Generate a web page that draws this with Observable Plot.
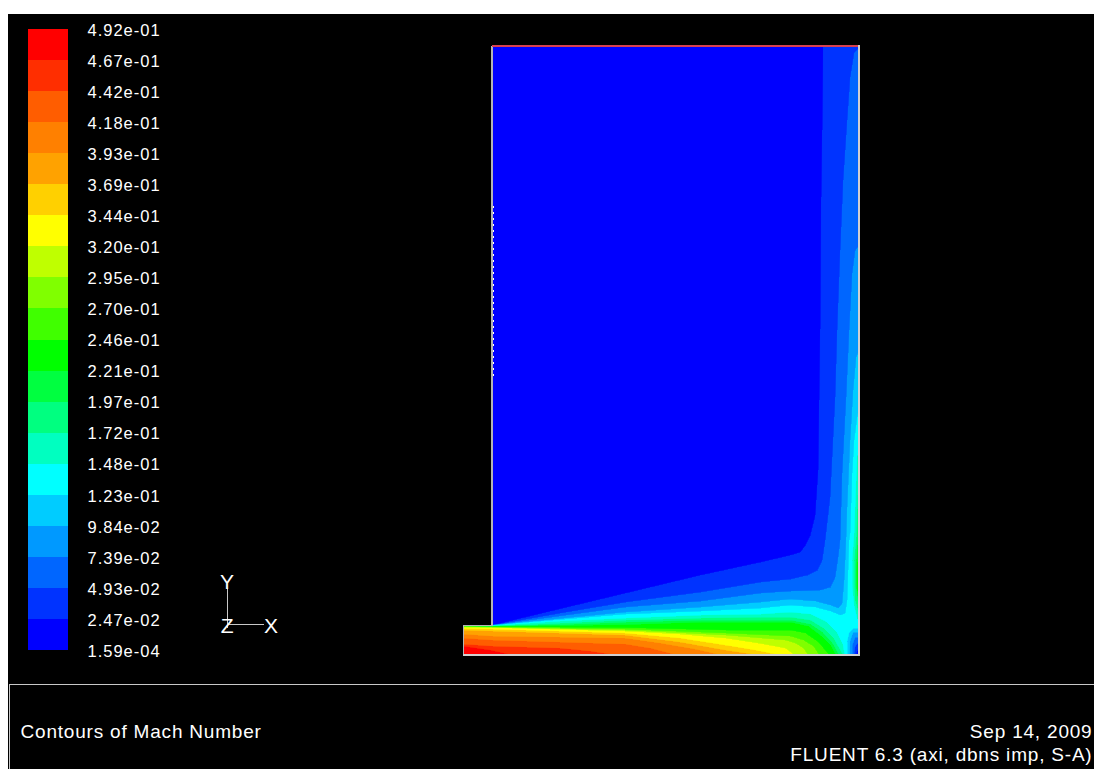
<!DOCTYPE html>
<html>
<head>
<meta charset="utf-8">
<script src="https://cdn.jsdelivr.net/npm/d3@7"></script>
<script src="https://cdn.jsdelivr.net/npm/@observablehq/plot@0.6"></script>
<style>
html,body{margin:0;padding:0;background:#fff;overflow:hidden}
#panel{position:absolute;left:8px;top:14px;width:1086px;height:755px;background:#000}
#chart svg{position:absolute;left:0;top:0}
</style>
</head>
<body>
<div id="panel"></div>
<div id="chart"></div>
<script>
// Legend
const levelLabels = ["1.59e-04","2.47e-02","4.93e-02","7.39e-02","9.84e-02","1.23e-01","1.48e-01","1.72e-01","1.97e-01","2.21e-01","2.46e-01","2.70e-01","2.95e-01","3.20e-01","3.44e-01","3.69e-01","3.93e-01","4.18e-01","4.42e-01","4.67e-01","4.92e-01"];
const bandColors = ["#0000ff","#0033ff","#0066ff","#0099ff","#00ccff","#00ffff","#00ffc0","#00ff80","#00ff40","#00ff00","#40ff00","#80ff00","#bfff00","#ffff00","#ffd000","#ffa200","#ff8000","#ff5d00","#ff2e00","#ff0000"];

// Contour boundaries [distance from nozzle exit, height above axis]
const domainOutline = [[-29,29],[0,29],[0,608],[366,608],[366,0],[-29,0]];
const L1 = [[0,29],[58,43],[108,55],[133,61],[158,67],[208,79],[268,92],[298,99],[308,102],[313,109],[318,119],[323,139],[326,184],[327,254],[328,324],[329,457],[330,524],[331,608],[366,608]];
const L2 = [[0,29],[68,41],[133,52],[208,62],[268,72],[298,75],[315,79],[325,84],[330,94],[333,114],[338,157],[343,257],[345,324],[348,404],[351,474],[355,534],[358,577],[362,602],[366,606]];
const L3 = [[0,29],[133,47],[208,53],[268,61],[298,63],[328,64],[338,67],[343,77],[346,97],[348,114],[350,181],[354,257],[357,324],[360,381],[363,404],[366,408]];
const L4 = [[0,29],[133,42],[208,47],[268,52],[298,55],[323,53],[338,49],[346,46],[350,51],[352,74],[353,94],[354,117],[355,147],[358,214],[361,264],[364,297],[366,302]];
const L5 = [[0,29],[133,40],[208,43],[268,46],[298,49],[323,47],[338,43],[348,39],[353,41],[355,54],[356,84],[357,114],[358,121],[360,181],[362,214],[365,237],[366,242]];
const L6 = [[-29,29],[0,28.5],[68,33],[133,36],[208,39],[268,40],[298,42],[318,40],[333,33],[344,22],[350,10],[352,0]];
const L7 = [[-29,28.5],[0,28],[68,31],[133,34],[208,36],[268,37],[298,37],[318,34],[331,26],[341,16],[350,0]];
const L8 = [[-29,28],[0,28],[68,29.5],[133,32],[208,34],[268,34],[298,34],[318,30],[330,22],[340,11],[346,0]];
const L9 = [[-29,28],[0,28],[68,28.5],[133,29.5],[208,32],[268,32],[298,32],[316,28],[328,19],[338,9],[343,0]];
const L10 = [[-29,28],[0,27.5],[68,27],[133,26.5],[233,24],[298,24],[313,21],[326,12],[336,0]];
const L11 = [[-29,27.7],[0,27],[133,25],[233,21],[298,18],[311,14],[321,8],[326,0]];
const L12 = [[-29,27.4],[0,26.7],[133,24],[233,19],[293,14],[303,11],[311,6],[315,0]];
const L13 = [[-29,27],[0,26.5],[133,23],[188,20],[233,16],[266,11],[293,6],[301,0]];
const L14 = [[-29,25.5],[0,25],[133,21],[188,16],[233,9],[263,4],[283,0]];
const L15 = [[-29,24],[0,23],[133,19],[188,12],[233,4],[260,0]];
const L16 = [[-29,20],[0,18],[133,16],[168,11],[203,5],[225,0]];
const L17 = [[-29,16],[0,14],[68,12],[133,10],[158,6],[181,0]];
const L18 = [[-29,10],[0,8],[68,6],[98,3],[118,0]];
const L19 = [[-29,8],[-2,4],[16,0]];

// Wall jet up the right-hand wall
const W6 = [[365,199],[362,121],[360,94],[360,69],[362,49],[365,36],[366,36],[366,199]];
const W7 = [[365.5,159],[364,117],[362,94],[362,69],[363,54],[366,42],[366,159]];
const W8 = [[366,134],[365,109],[363.5,89],[363.5,69],[366,51]];
const W9 = [[366,109],[364.5,84],[365,64],[366,57]];

// Stagnation pocket in the corner
const P4 = [[355,0],[355,13],[357,22],[361,26],[366,26],[366,0]];
const P3 = [[357.5,0],[358,14],[361,22],[366,22],[366,0]];
const P2 = [[360,0],[360,9],[363,17],[366,17],[366,0]];
const P1 = [[362,0],[363,8],[366,12],[366,0]];
const P0 = [[364,0],[366,6],[366,0]];

// Annotations
const triadY = [[-265,66],[-265,27]];
const triadX = [[-265,30],[-229,30]];
const triadLabels = [["Y",-265,72],["Z",-265,28],["X",-221,28]];
const footerRule = [[-483,-115],[-483,-30],[602,-30]];
const footerLeft = [["Contours of Mach Number",-472,-77]];
const footerRight = [["Sep 14, 2009",600,-77],["FLUENT 6.3 (axi, dbns imp, S-A)",600,-100]];
const wallSpeckle = [[1,448],[1,276]];

const FONT = "Liberation Sans, Arial, sans-serif";
const open = [[366,0],[-29,0],[-29,29]];
const jetClose = [[-29,0]];
const region = (pts, close, i) => Plot.line([...pts, ...close], {
  x: d => d[0], y: d => d[1], fill: bandColors[i], stroke: bandColors[i],
  strokeWidth: 0.5, shapeRendering: "crispEdges"
});
const seg = (pts, opts) => Plot.line(pts, {x: d => d[0], y: d => d[1], shapeRendering: "crispEdges", ...opts});
const labels = (rows, opts) => Plot.text(rows, {text: d => d[0], x: d => d[1], y: d => d[2], fill: "#fff", fontFamily: FONT, ...opts});

const main = Plot.plot({
  width: 1094, height: 769,
  margin: 0,
  style: {background: "transparent", letterSpacing: "0.8px"},
  x: {domain: [-492, 602], range: [0, 1094], axis: null},
  y: {domain: [-115, 654], range: [769, 0], axis: null},
  marks: [
    region(domainOutline, [], 0),
    ...[L1,L2,L3,L4,L5].map((l,i) => region(l, open, i+1)),
    ...[L6,L7,L8,L9,L10,L11,L12,L13,L14,L15,L16,L17,L18,L19].map((l,i) => region(l, jetClose, i+6)),
    ...[W6,W7,W8,W9].map((l,i) => region(l, [], i+6)),
    ...[P4,P3,P2,P1,P0].map((l,i) => region(l, [], 4-i)),
    seg([[-29,0],[-29,29],[-0.5,29],[-0.5,608]], {stroke: "#b4b4b4"}),
    seg([[0,608.5],[366,608.5]], {stroke: "#d84050"}),
    seg([[366.5,608.5],[366.5,-0.5],[-29,-0.5]], {stroke: "#d0d0d0"}),
    seg(wallSpeckle, {stroke: "#ffffff", strokeDasharray: "1 5"}),
    seg(triadY, {stroke: "#c8c8c8"}),
    seg(triadX, {stroke: "#c8c8c8"}),
    seg(footerRule, {stroke: "#c8c8c8"}),
    labels(triadLabels, {fontSize: 21, textAnchor: "middle"}),
    labels(footerLeft, {fontSize: 19, textAnchor: "start"}),
    labels(footerRight, {fontSize: 19, textAnchor: "end"})
  ]
});

const legend = Plot.plot({
  width: 180, height: 769,
  margin: 0,
  style: {background: "transparent", letterSpacing: "1px"},
  x: {domain: [0, 1], range: [28, 68], axis: null},
  y: {domain: [0, 20], range: [650, 29], axis: null},
  marks: [
    Plot.rect(bandColors, {x1: 0, x2: 1, y1: (d,i) => i, y2: (d,i) => i+1, fill: d => d, shapeRendering: "crispEdges"}),
    Plot.text(levelLabels, {text: d => d, x: 1, y: (d,i) => i, dx: 19, dy: 1, fill: "#fff", fontSize: 16.5, fontFamily: FONT, textAnchor: "start"})
  ],
  color: {type: "identity"}
});

const holder = document.getElementById("chart");
holder.append(main, legend);
</script>
</body>
</html>
